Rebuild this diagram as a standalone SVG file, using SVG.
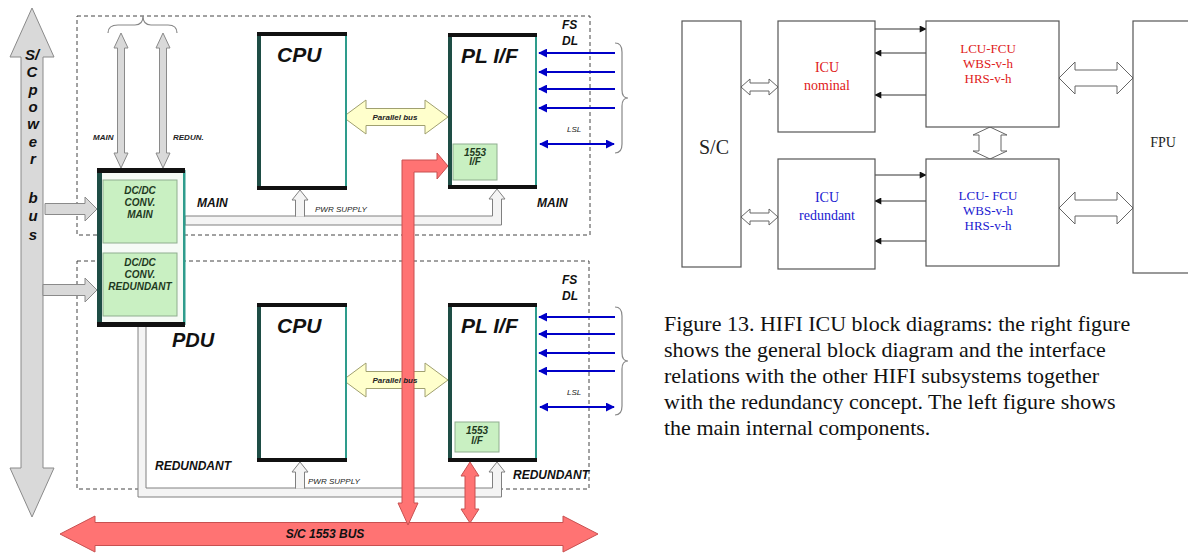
<svg xmlns="http://www.w3.org/2000/svg" width="1188" height="555" viewBox="0 0 1188 555">
<style>
.bi{font-family:"Liberation Sans",Arial,sans-serif;font-weight:bold;font-style:italic;fill:#111}
.dc{font-family:"Liberation Sans",Arial,sans-serif;font-weight:bold;font-style:italic;fill:#1f3a1f;font-size:10px;text-anchor:middle}
.sm{font-family:"Liberation Sans",Arial,sans-serif;font-style:italic;fill:#222;font-size:8px}
.ser{font-family:"Liberation Serif","Times New Roman",serif}
.dash{fill:none;stroke:#444;stroke-width:1;stroke-dasharray:4,3}
.gray{fill:#d9d9d9;stroke:#8a8a8a;stroke-width:1}
.pipe{fill:#f4f4f4;stroke:#808080;stroke-width:1}
.yel{fill:#ffffcc;stroke:#a0a070;stroke-width:1}
.red{fill:#ff7373;stroke:#c85050;stroke-width:1}
.bl{stroke:#0000c8;stroke-width:2;fill:none}
.brace{fill:none;stroke:#888;stroke-width:1.2}
.box{fill:#fff;stroke:#555;stroke-width:1.2}
.hol{fill:#fff;stroke:#666;stroke-width:1}
.con{stroke:#333;stroke-width:1;fill:none}
.grn{fill:#c9f0c2;stroke:#8fae8f;stroke-width:1}
</style>
<defs>
<marker id="ba" viewBox="0 0 10 10" refX="9" refY="5" markerWidth="4.5" markerHeight="4.5" orient="auto-start-reverse"><path d="M0,0 L10,5 L0,10 z" fill="#0000c8"/></marker>
<marker id="ka" viewBox="0 0 10 10" refX="9" refY="5" markerWidth="8" markerHeight="7" orient="auto"><path d="M0,0 L10,5 L0,10 z" fill="#111"/></marker>
</defs>

<!-- dashed frames -->
<rect class="dash" x="77" y="16" width="513" height="219"/>
<rect class="dash" x="77" y="261" width="512" height="228"/>

<!-- S/C power bus -->
<g id="sc-power-bus">
<polygon class="gray" points="32,8 54,57 43,57 43,468 54,468 32,517 10,468 21,468 21,57 10,57"/>
<g class="bi" font-size="15" text-anchor="middle">
<text x="32" y="60">S/</text><text x="32" y="77">C</text><text x="33" y="95">p</text><text x="33" y="112">o</text><text x="33" y="129">w</text><text x="33" y="147">e</text><text x="33" y="164">r</text><text x="33" y="203">b</text><text x="33" y="221">u</text><text x="33" y="240">s</text>
</g>
</g>

<!-- connectors -->
<g id="connectors">
<path class="brace" d="M108,33 Q108,25 118,25 L135,25 Q143,25 143,16 Q143,25 151,25 L168,25 Q177,25 177,33"/>
<polygon class="gray" points="121,33 128,48 124.5,48 124.5,153 128,153 121,168 114,153 117.5,153 117.5,48 114,48"/>
<polygon class="gray" points="163,33 170,48 166.5,48 166.5,153 170,153 163,168 156,153 159.5,153 159.5,48 156,48"/>
<polygon class="gray" points="45,203.5 85,203.5 85,197 97,209 85,221 85,214.5 45,214.5"/>
<polygon class="gray" points="43,284.5 85,284.5 85,278 97,290 85,302 85,295.5 43,295.5"/>
<!-- pwr supply pipes -->
<path class="pipe" d="M185,216 H492.5 V199 H489 L497,189 L505,199 H501.5 V225 H185 Z"/>
<path class="pipe" d="M295.5,216.6 V200 H292 L300,190 L308,200 H304.5 V216.6"/>
<path class="pipe" d="M146,327 V488 H492.5 V472 H489 L497,462 L505,472 H501.5 V497 H138 V327"/>
<path class="pipe" d="M295.5,488.6 V472 H292 L300,462 L308,472 H304.5 V488.6"/>
<!-- parallel buses -->
<polygon class="yel" points="343,117 366,100 366,108.5 425,108.5 425,100 448,117 425,134 425,125.5 366,125.5 366,134"/>
<polygon class="yel" points="343,380 366,363 366,371.5 425,371.5 425,363 448,380 425,397 425,388.5 366,388.5 366,397"/>
<!-- 1553 bus -->
<polygon class="red" points="60,534 95,516 95,522.5 563,522.5 563,516 598,534 563,552 563,545.5 95,545.5 95,552"/>
<polygon class="red" points="402,160 437,160 437,153 448,166 437,179 437,172 414,172 414,503 418,503 408,525 398,503 402,503"/>
<polygon class="red" points="470,462 479,476 475,476 475,509 479,509 470,523 461,509 465,509 465,476 461,476"/>
<!-- blue data links -->
<line class="bl" x1="615" y1="53" x2="539" y2="53" marker-end="url(#ba)"/>
<line class="bl" x1="615" y1="72" x2="539" y2="72" marker-end="url(#ba)"/>
<line class="bl" x1="615" y1="89" x2="539" y2="89" marker-end="url(#ba)"/>
<line class="bl" x1="615" y1="108" x2="539" y2="108" marker-end="url(#ba)"/>
<line class="bl" x1="540" y1="144" x2="614" y2="144" marker-start="url(#ba)" marker-end="url(#ba)"/>
<line class="bl" x1="615" y1="317" x2="539" y2="317" marker-end="url(#ba)"/>
<line class="bl" x1="615" y1="334" x2="539" y2="334" marker-end="url(#ba)"/>
<line class="bl" x1="615" y1="353" x2="539" y2="353" marker-end="url(#ba)"/>
<line class="bl" x1="615" y1="371" x2="539" y2="371" marker-end="url(#ba)"/>
<line class="bl" x1="540" y1="407" x2="614" y2="407" marker-start="url(#ba)" marker-end="url(#ba)"/>
<path class="brace" d="M615,43 Q622,43 622,52 L622,90 Q622,98 628,98 Q622,98 622,106 L622,144 Q622,153 615,153"/>
<path class="brace" d="M615,307 Q622,307 622,316 L622,353 Q622,361 628,361 Q622,361 622,369 L622,406 Q622,415 615,415"/>
<!-- right diagram connectors -->
<polygon class="hol" points="741,87 750,79 750,83 769,83 769,79 778,87 769,95 769,91 750,91 750,95"/>
<polygon class="hol" points="741,217 750,209 750,213 769,213 769,209 778,217 769,225 769,221 750,221 750,225"/>
<polygon class="hol" points="1059,78 1075,62 1075,70 1117,70 1117,62 1133,78 1117,94 1117,86 1075,86 1075,94"/>
<polygon class="hol" points="1059,208 1075,192 1075,200 1117,200 1117,192 1133,208 1117,224 1117,216 1075,216 1075,224"/>
<polygon class="hol" points="990,127 1007,135 1001,135 1001,151 1007,151 990,159 973,151 979,151 979,135 973,135"/>
<line class="con" x1="875" y1="29" x2="926" y2="29" marker-end="url(#ka)"/>
<line class="con" x1="926" y1="53" x2="875" y2="53" marker-end="url(#ka)"/>
<line class="con" x1="926" y1="95" x2="875" y2="95" marker-end="url(#ka)"/>
<line class="con" x1="875" y1="175" x2="926" y2="175" marker-end="url(#ka)"/>
<line class="con" x1="926" y1="201" x2="875" y2="201" marker-end="url(#ka)"/>
<line class="con" x1="926" y1="241" x2="875" y2="241" marker-end="url(#ka)"/>
</g>

<!-- PDU -->
<g id="pdu">
<rect x="97" y="168" width="88" height="159" fill="#f6fbf6"/>
<rect x="97" y="168" width="5" height="159" fill="#1e4d45"/>
<rect x="183" y="170" width="2.5" height="155" fill="#2e9c8c"/>
<rect x="97" y="168" width="88" height="5" fill="#111"/>
<rect x="97" y="322" width="88" height="5" fill="#111"/>
<rect class="grn" x="103" y="180" width="74" height="63"/>
<rect class="grn" x="103" y="253" width="74" height="63"/>
<text class="dc" x="140" y="194">DC/DC</text><text class="dc" x="140" y="206">CONV.</text><text class="dc" x="140" y="218">MAIN</text>
<text class="dc" x="140" y="266">DC/DC</text><text class="dc" x="140" y="278">CONV.</text><text class="dc" x="140" y="290">REDUNDANT</text>
<text class="bi" x="172" y="347" font-size="20">PDU</text>
</g>

<!-- CPU main -->
<g id="cpu-main">
<rect x="257" y="32" width="90" height="158" fill="#fff"/>
<rect x="257" y="32" width="4" height="158" fill="#1e4d45"/>
<rect x="345" y="34" width="2" height="154" fill="#2e9c8c"/>
<rect x="257" y="32" width="90" height="4" fill="#111"/>
<rect x="257" y="186" width="90" height="4" fill="#111"/>
<text class="bi" x="277" y="62" font-size="21">CPU</text>
</g>
<g id="plif-main">
<rect x="448" y="33" width="89" height="156" fill="#fff"/>
<rect x="448" y="33" width="4" height="156" fill="#1e4d45"/>
<rect x="535" y="35" width="2" height="152" fill="#2e9c8c"/>
<rect x="448" y="33" width="89" height="4" fill="#111"/>
<rect x="448" y="185" width="89" height="4" fill="#111"/>
<text class="bi" x="461" y="63" font-size="21">PL I/F</text>
<rect class="grn" x="453" y="144" width="44" height="36"/>
<text class="dc" x="475" y="156" font-size="6">1553</text><text class="dc" x="475" y="165" font-size="6">I/F</text>
</g>
<g id="cpu-red">
<rect x="257" y="303" width="90" height="159" fill="#fff"/>
<rect x="257" y="303" width="4" height="159" fill="#1e4d45"/>
<rect x="345" y="305" width="2" height="155" fill="#2e9c8c"/>
<rect x="257" y="303" width="90" height="4" fill="#111"/>
<rect x="257" y="458" width="90" height="4" fill="#111"/>
<text class="bi" x="277" y="333" font-size="21">CPU</text>
</g>
<g id="plif-red">
<rect x="448" y="303" width="89" height="159" fill="#fff"/>
<rect x="448" y="303" width="4" height="159" fill="#1e4d45"/>
<rect x="535" y="305" width="2" height="155" fill="#2e9c8c"/>
<rect x="448" y="303" width="89" height="4" fill="#111"/>
<rect x="448" y="458" width="89" height="4" fill="#111"/>
<text class="bi" x="461" y="333" font-size="21">PL I/F</text>
<rect class="grn" x="455" y="422" width="44" height="30"/>
<text class="dc" x="477" y="434" font-size="6">1553</text><text class="dc" x="477" y="444" font-size="6">I/F</text>
</g>

<!-- left labels -->
<g id="left-labels">
<text class="sm" x="93" y="140" font-weight="bold">MAIN</text>
<text class="sm" x="173" y="140" font-weight="bold">REDUN.</text>
<text class="bi" x="197" y="207" font-size="12">MAIN</text>
<text class="bi" x="537" y="207" font-size="12">MAIN</text>
<text class="bi" x="562" y="29" font-size="12">FS</text>
<text class="bi" x="562" y="45" font-size="12">DL</text>
<text class="bi" x="562" y="284" font-size="12">FS</text>
<text class="bi" x="562" y="300" font-size="12">DL</text>
<text class="sm" x="567" y="132">LSL</text>
<text class="sm" x="567" y="395">LSL</text>
<text class="sm" x="395" y="120" text-anchor="middle" font-weight="bold">Parallel bus</text>
<text class="sm" x="395" y="383" text-anchor="middle" font-weight="bold">Parallel bus</text>
<text class="sm" x="315" y="212">PWR SUPPLY</text>
<text class="sm" x="308" y="484">PWR SUPPLY</text>
<text class="bi" x="155" y="470" font-size="12">REDUNDANT</text>
<text class="bi" x="513" y="479" font-size="12">REDUNDANT</text>
<text class="bi" x="325" y="538" font-size="12" text-anchor="middle" fill="#222">S/C 1553 BUS</text>
</g>

<!-- right diagram nodes -->
<g id="sc"><rect class="box" x="682" y="21" width="59" height="246"/><text class="ser" x="714" y="154" font-size="20" text-anchor="middle" fill="#222">S/C</text></g>
<g id="icu-nominal"><rect class="box" x="778" y="21" width="97" height="111"/>
<text class="ser" x="827" y="72" font-size="14" text-anchor="middle" fill="#e02020">ICU</text>
<text class="ser" x="827" y="90" font-size="14" text-anchor="middle" fill="#e02020">nominal</text></g>
<g id="icu-redundant"><rect class="box" x="778" y="159" width="97" height="110"/>
<text class="ser" x="827" y="202" font-size="14" text-anchor="middle" fill="#2020d0">ICU</text>
<text class="ser" x="827" y="220" font-size="14" text-anchor="middle" fill="#2020d0">redundant</text></g>
<g id="lcu-nominal"><rect class="box" x="926" y="21" width="133" height="106"/>
<text class="ser" x="988" y="53" font-size="13" text-anchor="middle" fill="#e02020">LCU-FCU</text>
<text class="ser" x="988" y="68" font-size="13" text-anchor="middle" fill="#e02020">WBS-v-h</text>
<text class="ser" x="988" y="83" font-size="13" text-anchor="middle" fill="#e02020">HRS-v-h</text></g>
<g id="lcu-redundant"><rect class="box" x="926" y="159" width="133" height="107"/>
<text class="ser" x="988" y="200" font-size="13" text-anchor="middle" fill="#2020d0">LCU- FCU</text>
<text class="ser" x="988" y="215" font-size="13" text-anchor="middle" fill="#2020d0">WBS-v-h</text>
<text class="ser" x="988" y="230" font-size="13" text-anchor="middle" fill="#2020d0">HRS-v-h</text></g>
<g id="fpu"><rect class="box" x="1133" y="21" width="70" height="252"/>
<text class="ser" x="1163" y="147" font-size="14" text-anchor="middle" fill="#222">FPU</text></g>

<!-- caption -->
<g id="caption" class="ser" font-size="22" fill="#111">
<text x="664" y="331">Figure 13. HIFI ICU block diagrams: the right figure</text>
<text x="664" y="357">shows the general block diagram and the interface</text>
<text x="664" y="383">relations with the other HIFI subsystems together</text>
<text x="664" y="409">with the redundancy concept. The left figure shows</text>
<text x="664" y="435">the main internal components.</text>
</g>
</svg>
